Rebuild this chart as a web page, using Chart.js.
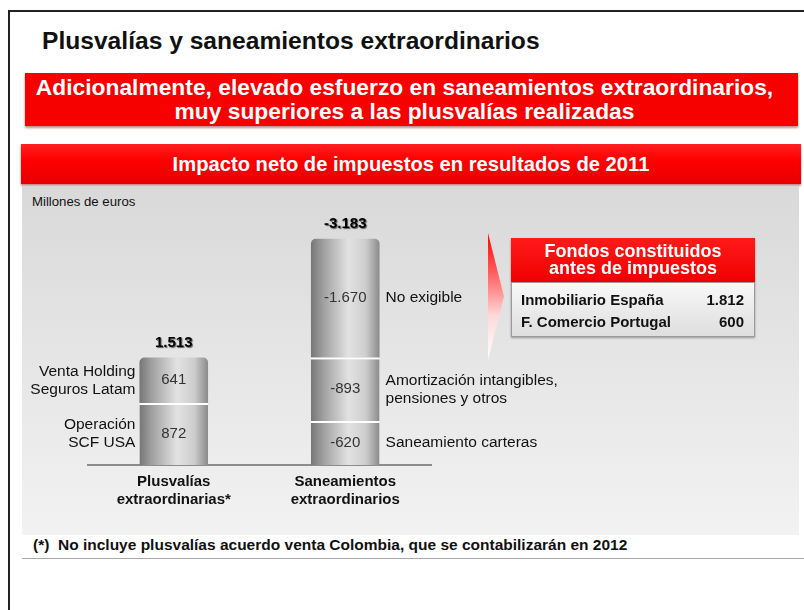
<!DOCTYPE html>
<html>
<head>
<meta charset="utf-8">
<script src="https://cdn.jsdelivr.net/npm/chart.js@4/dist/chart.umd.min.js"></script>
<style>
  body { margin: 0; width: 804px; height: 610px; background: #fff; overflow: hidden; position: relative;
         font-family: "Liberation Sans", Arial, sans-serif; color: #111; }
  .abs { position: absolute; }
  #frame { left: 8px; top: 10px; width: 900px; height: 700px; border: 2px solid #222; }
  #title { left: 42px; top: 26px; font-size: 24.6px; font-weight: bold; line-height: 30px; white-space: nowrap; }
  #banner1 { left: 25px; top: 73px; width: 773px; height: 53px; background: #f60000; color: #fff;
             font-size: 22.8px; font-weight: bold; line-height: 24px; text-align: center; box-sizing: border-box;
             padding-top: 2px; padding-right: 14px; box-shadow: 0 2px 2px rgba(120,0,0,0.45); white-space: nowrap; }
  #banner2 { left: 21px; top: 144px; width: 780px; height: 40px; color: #fff; font-size: 20.2px; font-weight: bold;
             line-height: 40px; text-align: center;
             background: linear-gradient(#ff2020, #ff0000 40%, #e80000); box-shadow: 0 2px 2px rgba(120,0,0,0.45); }
  #panel { left: 22px; top: 186px; width: 777px; height: 349px; background: linear-gradient(#d9d9d9, #f2f2f2); }
  #units { left: 32px; top: 194px; font-size: 13.2px; line-height: 16px; }
  #wrap { left: 22px; top: 186px; width: 778px; height: 347px; }
  #chevron { left: 488px; top: 233px; width: 16px; height: 127px; clip-path: polygon(0 0, 100% 50%, 0 100%);
             background: linear-gradient(#ff0000, #ff6a6a 35%, #ffd8d8 65%, #ffffff); }
  #fhead { left: 511px; top: 238px; width: 244px; height: 44px; background: linear-gradient(#ff1a1a, #f00000);
           color: #fff; font-size: 18px; font-weight: bold; line-height: 17px; text-align: center; box-sizing: border-box;
           padding-top: 5px; box-shadow: 0 1px 2px rgba(0,0,0,0.4); }
  #fbody { left: 511px; top: 282px; width: 244px; height: 55px; box-sizing: border-box; border: 1px solid #9a9a9a;
           background: linear-gradient(#f8f8f8, #dedede); box-shadow: 0 1px 2px rgba(0,0,0,0.35); }
  .frow { position: absolute; left: 9px; right: 10px; font-size: 15px; font-weight: bold; line-height: 18px; }
  .frow span:last-child { position: absolute; right: 0; }
  #note { left: 33px; top: 536px; font-size: 15.5px; font-weight: bold; line-height: 18px; white-space: nowrap; }
  #noteline { left: 22px; top: 558px; width: 782px; height: 1px; background: #a8a8a8; }
</style>
</head>
<body>
<div id="frame" class="abs"></div>
<div id="title" class="abs">Plusvalías y saneamientos extraordinarios</div>
<div id="banner1" class="abs">Adicionalmente, elevado esfuerzo en saneamientos extraordinarios,<br>muy superiores a las plusvalías realizadas</div>
<div id="banner2" class="abs">Impacto neto de impuestos en resultados de 2011</div>
<div id="panel" class="abs"></div>
<div id="units" class="abs">Millones de euros</div>
<div id="wrap" class="abs"><canvas id="chart"></canvas></div>
<div id="chevron" class="abs"></div>
<div id="fhead" class="abs">Fondos constituidos<br>antes de impuestos</div>
<div id="fbody" class="abs"></div>
<div id="note" class="abs">(*)&nbsp; No incluye plusvalías acuerdo venta Colombia, que se contabilizarán en 2012</div>
<div id="noteline" class="abs"></div>

<script>
// data (millones de euros)
const categories = [['Plusvalías', 'extraordinarias*'], ['Saneamientos', 'extraordinarios']];
const plusvaliasLabels = [['Operación', 'SCF USA'], ['Venta Holding', 'Seguros Latam']];
const plusvaliasValues = [872, 641];
const saneamientosLabels = [['Saneamiento carteras'], ['Amortización intangibles,', 'pensiones y otros'], ['No exigible']];
const saneamientosValues = [-620, -893, -1670];
const totals = [1513, -3183];
const fondosLabels = ['Inmobiliario España', 'F. Comercio Portugal'];
const fondosValues = [1812, 600];

const FONT = '"Liberation Sans", Arial, sans-serif';
Chart.defaults.font.family = FONT;

function fmt(v) {
  const s = Math.abs(v).toString().replace(/\B(?=(\d{3})+(?!\d))/g, '.');
  return (v < 0 ? '-' : '') + s;
}

// fondos table
const fbody = document.getElementById('fbody');
fondosLabels.forEach((name, i) => {
  const row = document.createElement('div');
  row.className = 'frow';
  row.style.top = (8 + i * 22) + 'px';
  row.innerHTML = '<span>' + name + '</span><span>' + fmt(fondosValues[i]) + '</span>';
  fbody.appendChild(row);
});

const segValues = [plusvaliasValues, saneamientosValues];
const segLabels = [plusvaliasLabels, saneamientosLabels];
const levels = Math.max(plusvaliasValues.length, saneamientosValues.length);

function isTop(level, idx) {
  for (let l = level + 1; l < levels; l++) if (segValues[idx][l] != null) return false;
  return true;
}

function cylinder(ctx) {
  const chart = ctx.chart;
  const x = chart.scales.x;
  if (!x || !chart.chartArea) return '#bbb';
  const cx = x.getPixelForValue(ctx.dataIndex);
  const half = x.width / categories.length * 0.4 / 2;
  const g = chart.ctx.createLinearGradient(cx - half, 0, cx + half, 0);
  g.addColorStop(0, '#767676');
  g.addColorStop(0.18, '#a0a0a0');
  g.addColorStop(0.55, '#e2e2e2');
  g.addColorStop(0.8, '#cdcdcd');
  g.addColorStop(1, '#8a8a8a');
  return g;
}

const datasets = [];
for (let l = 0; l < levels; l++) {
  datasets.push({
    data: segValues.map(vals => vals[l] == null ? null : Math.abs(vals[l])),
    backgroundColor: cylinder,
    borderColor: 'rgba(255,255,255,0.95)',
    borderWidth: ctx => (isTop(l, ctx.dataIndex) ? { top: 0 } : { top: 2 }),
    borderSkipped: 'start',
    borderRadius: ctx => (isTop(l, ctx.dataIndex) ? { topLeft: 5, topRight: 5 } : 0),
    categoryPercentage: 0.5,
    barPercentage: 0.8
  });
}

const labelPlugin = {
  id: 'segLabels',
  afterDatasetsDraw(chart) {
    const c = chart.ctx;
    c.save();
    const tops = [];
    chart.data.datasets.forEach((ds, l) => {
      chart.getDatasetMeta(l).data.forEach((el, i) => {
        const raw = segValues[i][l];
        if (raw == null) return;
        const mid = (el.y + el.base) / 2;
        c.font = '15px ' + FONT;
        c.fillStyle = '#333';
        c.textAlign = 'center';
        c.textBaseline = 'middle';
        c.fillText(fmt(raw), el.x, mid);
        const lines = segLabels[i][l];
        c.font = '15.5px ' + FONT;
        c.fillStyle = '#111';
        const lh = 18;
        const y0 = mid - (lines.length - 1) * lh / 2;
        lines.forEach((t, k) => {
          if (i === 0) {
            c.textAlign = 'right';
            c.fillText(t, el.x - el.width / 2 - 4, y0 + k * lh);
          } else {
            c.textAlign = 'left';
            c.fillText(t, el.x + el.width / 2 + 6, y0 + k * lh);
          }
        });
        if (tops[i] == null || el.y < tops[i].y) tops[i] = el;
      });
    });
    tops.forEach((el, i) => {
      c.font = 'bold 15px ' + FONT;
      c.textAlign = 'center';
      c.textBaseline = 'middle';
      c.fillStyle = '#000';
      c.shadowColor = 'rgba(0,0,0,0.6)';
      c.shadowOffsetX = 1;
      c.shadowOffsetY = 1;
      c.shadowBlur = 1;
      c.fillText(fmt(totals[i]), el.x, el.y - 15);
    });
    c.restore();
  }
};

new Chart(document.getElementById('chart'), {
  type: 'bar',
  data: { labels: categories, datasets: datasets },
  plugins: [labelPlugin],
  options: {
    responsive: true,
    maintainAspectRatio: false,
    animation: false,
    layout: { padding: { left: 66, right: 369, top: 9, bottom: 0 } },
    plugins: { legend: { display: false }, tooltip: { enabled: false } },
    scales: {
      x: {
        stacked: true,
        grid: { display: false, drawTicks: false },
        border: { display: true, color: '#8c8c8c', width: 2 },
        ticks: { color: '#111', font: { size: 15, weight: 'bold', lineHeight: 1.2 }, padding: 8, maxRotation: 0 },
        afterFit: scale => { scale.height = 68; }
      },
      y: {
        stacked: true,
        display: false,
        min: 0,
        max: 3800
      }
    }
  }
});
</script>
</body>
</html>
